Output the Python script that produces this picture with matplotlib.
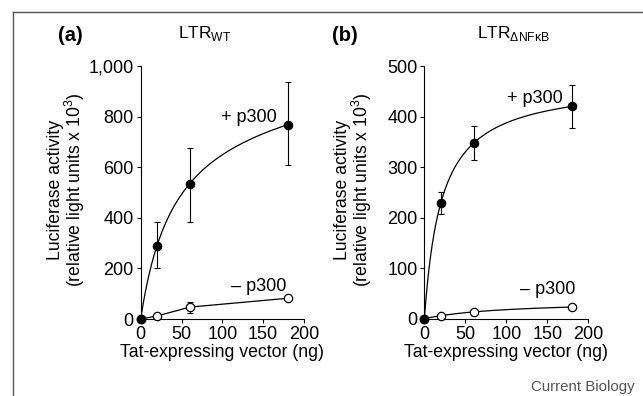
import numpy as np
import matplotlib
matplotlib.use("Agg")
import matplotlib.pyplot as plt
from matplotlib.lines import Line2D
from matplotlib.ticker import FuncFormatter

plt.rcParams['font.family'] = ['Liberation Sans', 'DejaVu Sans']
plt.rcParams['mathtext.fontset'] = 'custom'
plt.rcParams['mathtext.rm'] = 'Liberation Sans'

# Tat-expressing vector (ng)
tat_ng = [0, 20, 60, 180]

# panel (a) LTR WT
wt_plus = [0, 290, 535, 768]
wt_plus_lo = [0, 200, 385, 608]
wt_plus_hi = [0, 383, 675, 935]
wt_minus = [0, 12, 47, 82]
wt_minus_err = [0, 0, 22, 0]

# panel (b) LTR dNFkB
nf_plus = [0, 228, 348, 420]
nf_plus_lo = [0, 208, 314, 378]
nf_plus_hi = [0, 250, 382, 462]
nf_minus = [0, 5, 14, 23]

xticks = [0, 50, 100, 150, 200]


def hyper_fit(x, y, xs):
    # saturation curve a*x/(b+x) + c*x fitted to the points (like the paper's fit line)
    x = np.asarray(x, float)
    y = np.asarray(y, float)
    best = None
    for b in np.linspace(1, 600, 3000):
        A = np.column_stack([x / (b + x), x])
        coef, res, _, _ = np.linalg.lstsq(A, y, rcond=None)
        if coef[1] < 0:
            continue
        r = np.sum((A @ coef - y) ** 2)
        if best is None or r < best[0]:
            best = (r, b, coef)
    _, b, (a, c) = best
    return a * xs / (b + xs) + c * xs


def style_axes(ax, ymax, ystep):
    for s in ['top', 'right']:
        ax.spines[s].set_visible(False)
    for s in ['left', 'bottom']:
        ax.spines[s].set_linewidth(0.8)
    ax.set_xlim(0, 200)
    ax.set_ylim(0, ymax)
    ax.set_xticks(xticks)
    ax.set_yticks(np.arange(0, ymax + 1, ystep))
    ax.yaxis.set_major_formatter(FuncFormatter(lambda v, p: f'{int(v):,}'))
    ax.tick_params(direction='out', length=3, width=0.8, labelsize=13, pad=2)
    ax.set_xlabel('Tat-expressing vector (ng)', fontsize=12.7, labelpad=1)


fig = plt.figure(figsize=(6.43, 3.96), dpi=100)
xs = np.linspace(0, 180, 400)
mk = dict(markersize=6, markeredgewidth=0.9, markeredgecolor='black', clip_on=False, zorder=5)
eb = dict(fmt='none', ecolor='black', elinewidth=0.8, capsize=2.5, capthick=0.8, clip_on=False, zorder=4)

# ---- panel (a)
ax1 = fig.add_axes([0.2188, 0.1944, 0.254, 0.639])
ax1.plot(xs, hyper_fit(tat_ng, wt_plus, xs), color='black', lw=0.9)
ax1.errorbar(tat_ng, wt_plus,
             yerr=[np.subtract(wt_plus, wt_plus_lo), np.subtract(wt_plus_hi, wt_plus)], **eb)
ax1.plot(tat_ng, wt_minus, color='black', lw=0.9)
ax1.errorbar(tat_ng, wt_minus, yerr=wt_minus_err, **eb)
ax1.plot(tat_ng, wt_minus, 'o', markerfacecolor='white', **mk)
ax1.plot(tat_ng, wt_plus, 'o', markerfacecolor='black', **mk)
style_axes(ax1, 1000, 200)
ax1.text(167, 798, '+ p300', ha='right', va='center', fontsize=13)
ax1.text(179, 130, '– p300', ha='right', va='center', fontsize=13)

# ---- panel (b)
ax2 = fig.add_axes([0.660, 0.1952, 0.255, 0.638])
ax2.plot(xs, hyper_fit(tat_ng, nf_plus, xs), color='black', lw=0.9)
ax2.errorbar(tat_ng, nf_plus,
             yerr=[np.subtract(nf_plus, nf_plus_lo), np.subtract(nf_plus_hi, nf_plus)], **eb)
ax2.plot(xs, hyper_fit(tat_ng, nf_minus, xs), color='black', lw=0.9)
ax2.plot(tat_ng, nf_minus, 'o', markerfacecolor='white', **mk)
ax2.plot(tat_ng, nf_plus, 'o', markerfacecolor='black', **mk)
style_axes(ax2, 500, 100)
ax2.text(169, 435, '+ p300', ha='right', va='center', fontsize=13)
ax2.text(184, 57, '– p300', ha='right', va='center', fontsize=13)

# y labels, panel letters, titles
ylab = 'Luciferase activity\n(relative light units x 10$^3$)'
fig.text(67 / 643, 1 - 190 / 396, ylab, rotation=90, ha='center', va='center',
         fontsize=12.7, linespacing=0.92)
fig.text(354 / 643, 1 - 190 / 396, ylab, rotation=90, ha='center', va='center',
         fontsize=12.7, linespacing=0.92)
fig.text(70 / 643, 1 - 41 / 396, '(a)', ha='center', va='baseline', fontsize=14.5, fontweight='bold')
fig.text(345 / 643, 1 - 41 / 396, '(b)', ha='center', va='baseline', fontsize=14.5, fontweight='bold')
fig.text(178 / 643, 1 - 38 / 396, r'LTR$_{\mathrm{WT}}$', ha='left', va='baseline', fontsize=12.5)
fig.text(477 / 643, 1 - 38 / 396, r'LTR$_{\mathrm{ΔNFκB}}$', ha='left', va='baseline', fontsize=12.5)
fig.text(635 / 643, 1 - 387 / 396, 'Current Biology', ha='right', va='center', fontsize=10.8, color='#555555')

# frame lines of the original figure
fig.add_artist(Line2D([12.5 / 643, 12.5 / 643], [0, 1 - 11.5 / 396], color='#555555', lw=1))
fig.add_artist(Line2D([12.5 / 643, 1], [1 - 11.5 / 396, 1 - 11.5 / 396], color='#555555', lw=1))

fig.savefig('out.png', dpi=100)
